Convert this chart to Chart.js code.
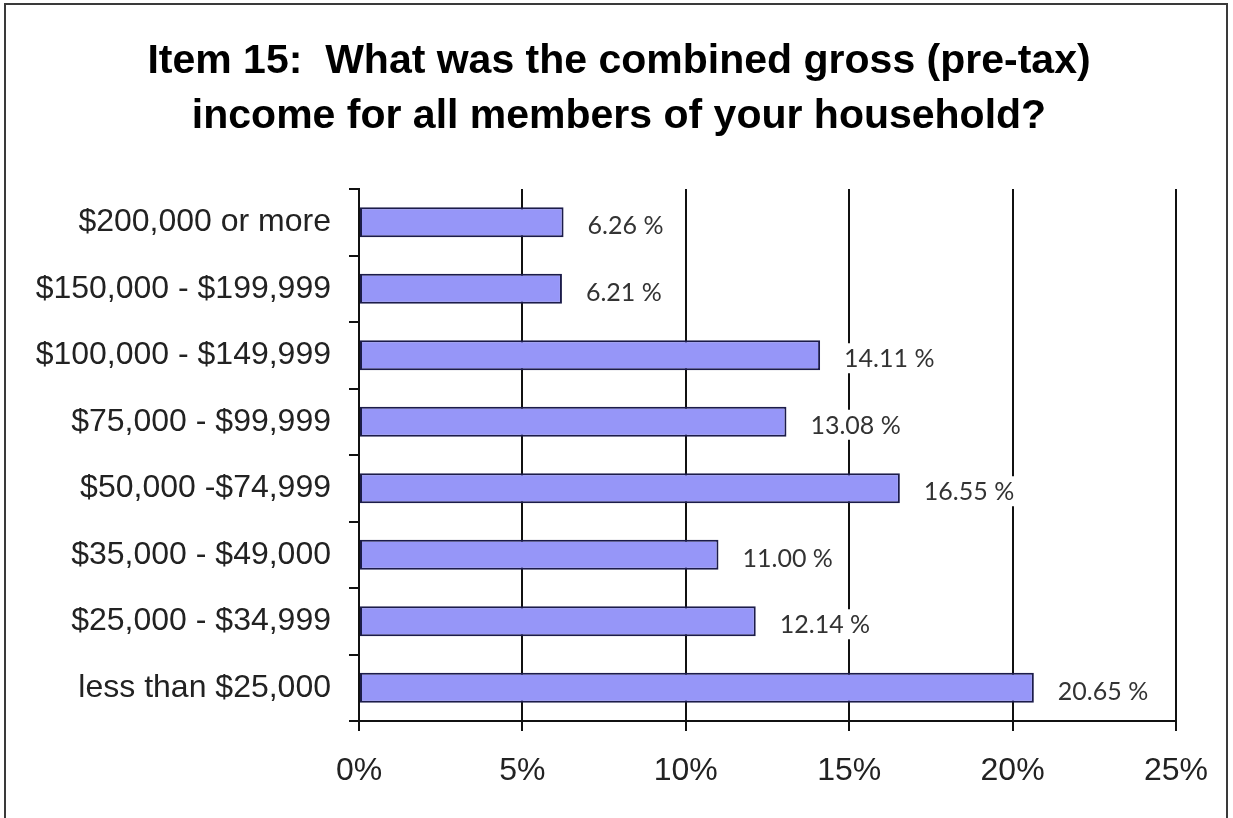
<!DOCTYPE html>
<html>
<head>
<meta charset="utf-8">
<script src="https://cdn.jsdelivr.net/npm/chart.js@4"></script>
<style>
  html, body { margin: 0; padding: 0; background: #fff; }
  body { width: 1233px; height: 818px; position: relative; overflow: hidden; }
  #frame { position: absolute; left: 4px; top: 3px; width: 1224px; height: 830px; border: 2px solid #3a3a3a; box-sizing: border-box; }
  #wrap { position: absolute; left: 0; top: 0; width: 1233px; height: 818px; }
</style>
</head>
<body>
<div id="wrap"><canvas id="c" width="1233" height="818"></canvas></div>
<div id="frame"></div>
<script>
const titleLines = ["Item 15:  What was the combined gross (pre-tax)", "income for all members of your household?"];
const categories = ["$200,000 or more", "$150,000 - $199,999", "$100,000 - $149,999", "$75,000 - $99,999", "$50,000 -$74,999", "$35,000 - $49,000", "$25,000 - $34,999", "less than $25,000"];
const percentValues = [6.26, 6.21, 14.11, 13.08, 16.55, 11.00, 12.14, 20.65];
const xTickMin = 0, xTickMax = 25, xTickStep = 5;

const titleDraw = {
  id: 'titleDraw',
  afterDraw(chart) {
    const ctx = chart.ctx;
    ctx.save();
    ctx.font = 'bold 41px "Liberation Sans", Arial, sans-serif';
    ctx.fillStyle = '#000';
    ctx.textAlign = 'center';
    ctx.textBaseline = 'alphabetic';
    ctx.fillText(titleLines[0], 619, 73);
    ctx.fillText(titleLines[1], 619, 128);
    ctx.restore();
  }
};

const valueLabels = {
  id: 'valueLabels',
  afterDatasetsDraw(chart) {
    const ctx = chart.ctx;
    const meta = chart.getDatasetMeta(0);
    ctx.save();
    ctx.font = '25px Lato';
    ctx.textBaseline = 'middle';
    ctx.textAlign = 'left';
    meta.data.forEach((bar, i) => {
      const txt = percentValues[i].toFixed(2) + ' %';
      const x = bar.x + 24;
      const y = bar.y + 3;
      const w = ctx.measureText(txt).width;
      ctx.fillStyle = '#ffffff';
      ctx.fillRect(x - 5, y - 15, w + 10, 30);
      ctx.fillStyle = '#333333';
      ctx.fillText(txt, x, y + 1);
    });
    ctx.restore();
  }
};

new Chart(document.getElementById('c'), {
  type: 'bar',
  data: {
    labels: categories,
    datasets: [{
      data: percentValues,
      backgroundColor: '#9696F8',
      borderColor: '#1c1c4a',
      borderWidth: 2,
      borderSkipped: false,
      barPercentage: 0.9,
      categoryPercentage: 0.5
    }]
  },
  options: {
    indexAxis: 'y',
    responsive: false,
    animation: false,
    devicePixelRatio: 1,
    layout: { padding: { left: 0, right: 57, top: 189, bottom: 0 } },
    plugins: {
      legend: { display: false },
      tooltip: { enabled: false },
      title: { display: false }
    },
    scales: {
      x: {
        type: 'linear',
        min: xTickMin,
        max: xTickMax,
        ticks: {
          stepSize: xTickStep,
          color: '#222',
          font: { family: 'Liberation Sans, Arial, sans-serif', size: 32 },
          padding: 21,
          callback: v => v + '%'
        },
        grid: { color: '#111', lineWidth: 2, tickLength: 10, drawTicks: true },
        border: { display: true, color: '#111', width: 2 },
        afterFit(scale) { scale.height = 97; }
      },
      y: {
        type: 'category',
        ticks: {
          color: '#222',
          font: { family: 'Liberation Sans, Arial, sans-serif', size: 32 },
          padding: 18
        },
        grid: { drawOnChartArea: false, color: '#111', lineWidth: 2, tickLength: 10, offset: true },
        border: { display: true, color: '#111', width: 2 },
        afterFit(scale) { scale.width = 359; }
      }
    }
  },
  plugins: [valueLabels, titleDraw]
});
</script>
</body>
</html>
